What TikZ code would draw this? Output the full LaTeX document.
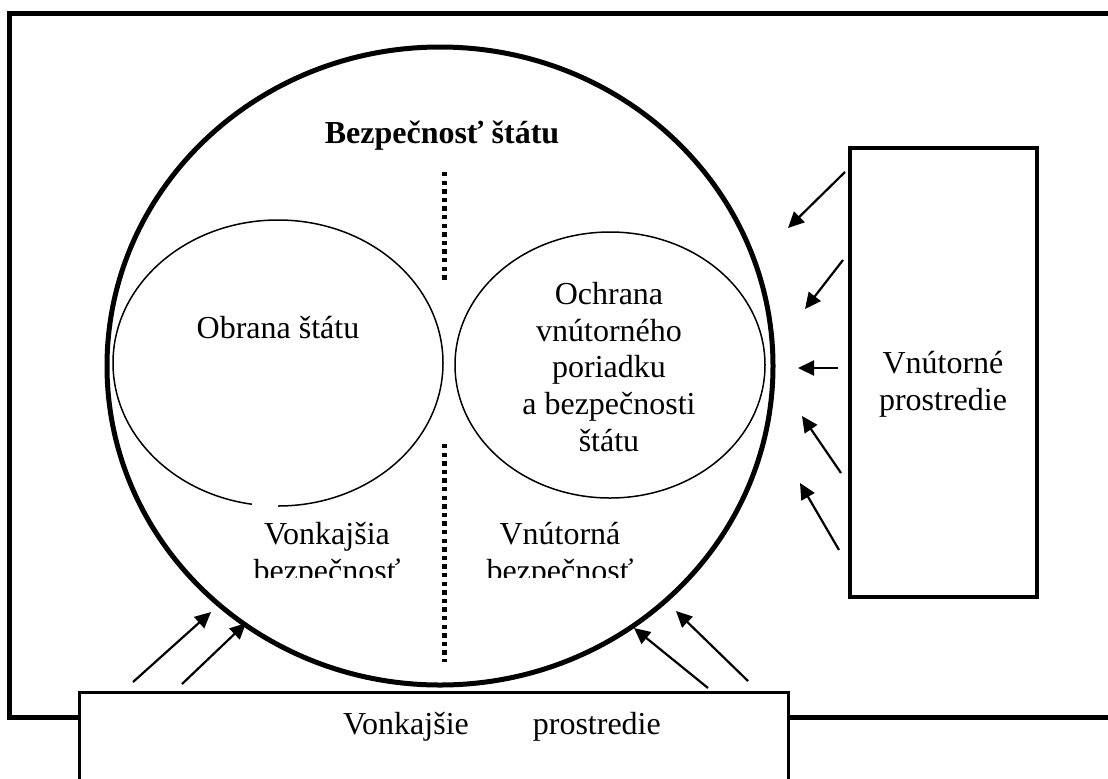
\documentclass[tikz,border=0pt]{standalone}
\usepackage{fontspec}
\setmainfont{Liberation Serif}
\usetikzlibrary{arrows.meta}

\begin{document}
\begin{tikzpicture}[x=0.5pt,y=-0.5pt,
    arr/.style={-{Triangle[length=8pt,width=7.5pt]}, line width=1.1pt},
    txt/.style={font=\fontsize{16}{18.4}\selectfont, align=center, inner sep=0pt},
    dots/.style={line width=2.5pt, dash pattern=on 2.2pt off 2.1pt}]
    \clip (0,0) rectangle (1108,778);
    \draw[line width=2.5pt] (9,13) rectangle (1130,717); % ram

    \draw[line width=2.5pt] (440,366) ellipse [x radius=333, y radius=319];
    \draw[line width=0.75pt] (278,363) ellipse [x radius=165, y radius=143];
    \draw[line width=0.75pt] (610,365) ellipse [x radius=155, y radius=133];
    \fill[white] (252,502) rectangle (278,511);

    \coordinate (d1a) at (444,172);
    \coordinate (d1b) at (444,283);
    \coordinate (d2a) at (444,444);
    \coordinate (d2b) at (444,662);
    \draw[dots] (d1a) -- (d1b);
    \draw[dots] (d2a) -- (d2b);

    \node[txt, font=\fontsize{16}{18.4}\selectfont\bfseries, anchor=base] (bezp) at (442,143) {Bezpečnosť štátu};
    \node[txt, anchor=base] (obrana) at (278,338) {Obrana štátu};
    \node[txt] (ochrana) at (609,367) {Ochrana\\vnútorného\\poriadku\\a bezpečnosti\\štátu};

    \begin{scope}
        \clip (240,500) rectangle (640,577);
        \node[txt] (vonkbezp) at (327,555) {Vonkajšia\\bezpečnosť};
        \node[txt] (vnutbezp) at (560,555) {Vnútorná\\bezpečnosť};
    \end{scope}

    % vnutorne prostredie
    \draw[line width=2pt] (850,148) rectangle (1037,597);
    \node[txt] (vnutpr) at (943,384) {Vnútorné\\prostredie};
    \coordinate (r1a) at (845,172); \coordinate (r1b) at (788,228);
    \coordinate (r2a) at (843,260); \coordinate (r2b) at (805,309);
    \coordinate (r3a) at (838,368); \coordinate (r3b) at (798,368);
    \coordinate (r4a) at (841,473); \coordinate (r4b) at (802,416);
    \coordinate (r5a) at (839,550); \coordinate (r5b) at (800,483);
    \draw[arr] (r1a) -- (r1b);
    \draw[arr] (r2a) -- (r2b);
    \draw[arr] (r3a) -- (r3b);
    \draw[arr] (r4a) -- (r4b);
    \draw[arr] (r5a) -- (r5b);

    % vonkajsie prostredie
    \draw[line width=1.5pt, fill=white] (79,692) rectangle (788,800);
    \node[txt, anchor=base] (vonkpr) at (502,734) {Vonkajšie\hspace{32pt}prostredie};
    \coordinate (b1a) at (133,682); \coordinate (b1b) at (211,612);
    \coordinate (b2a) at (182,684); \coordinate (b2b) at (246,623);
    \coordinate (b3a) at (708,688); \coordinate (b3b) at (634,628);
    \coordinate (b4a) at (748,681); \coordinate (b4b) at (676,611);
    \draw[arr] (b1a) -- (b1b);
    \draw[arr] (b2a) -- (b2b);
    \draw[arr] (b3a) -- (b3b);
    \draw[arr] (b4a) -- (b4b);
\end{tikzpicture}
\end{document}
